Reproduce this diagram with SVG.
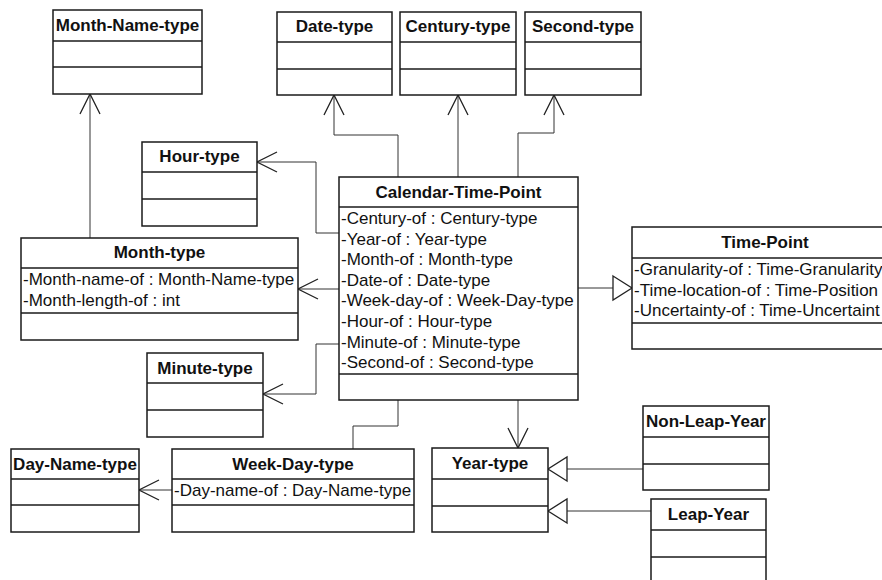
<svg xmlns="http://www.w3.org/2000/svg" width="882" height="580" viewBox="0 0 882 580">
  <style>
    .box { fill: #ffffff; stroke: #1a1a1a; stroke-width: 1.5; }
    .sep { stroke: #1a1a1a; stroke-width: 1.5; }
    .title { font-family: "Liberation Sans", Arial, sans-serif; font-size: 17px; font-weight: bold; text-anchor: middle; fill: #111; }
    .attr { font-family: "Liberation Sans", Arial, sans-serif; font-size: 17px; fill: #111; }
    .conn { fill: none; stroke: #333; stroke-width: 1; }
  </style>
  <defs>
    <marker id="open" markerUnits="userSpaceOnUse" markerWidth="26" markerHeight="26" viewBox="-23 -13 26 26" refX="0" refY="0" orient="auto" overflow="visible">
      <path d="M-20,-10 L0,0 L-20,10" fill="none" stroke="#222" stroke-width="1.3"/>
    </marker>
    <marker id="tri" markerUnits="userSpaceOnUse" markerWidth="26" markerHeight="30" viewBox="-22 -15 26 30" refX="0" refY="0" orient="auto" overflow="visible">
      <path d="M-19,-12 L0,0 L-19,12 Z" fill="#ffffff" stroke="#222" stroke-width="1.3"/>
    </marker>
  </defs>

  <!-- connectors -->
  <g id="connectors">
    <path class="conn" d="M90,238 V94" marker-end="url(#open)"/>
    <path class="conn" d="M398,177 V135 H334 V95" marker-end="url(#open)"/>
    <path class="conn" d="M458,177 V95" marker-end="url(#open)"/>
    <path class="conn" d="M518,177 V133 H554 V95" marker-end="url(#open)"/>
    <path class="conn" d="M339,233 H316 V162 H257" marker-end="url(#open)"/>
    <path class="conn" d="M339,289 H298" marker-end="url(#open)"/>
    <path class="conn" d="M339,344 H316 V394 H263" marker-end="url(#open)"/>
    <path class="conn" d="M398,400 V426 H353 V449"/>
    <path class="conn" d="M172,490 H139" marker-end="url(#open)"/>
    <path class="conn" d="M518,400 V448" marker-end="url(#open)"/>
    <path class="conn" d="M578,288 H632" marker-end="url(#tri)"/>
    <path class="conn" d="M643,469 H548" marker-end="url(#tri)"/>
    <path class="conn" d="M651,511 H548" marker-end="url(#tri)"/>
  </g>

  <g id="month-name-type">
    <rect class="box" x="53" y="10" width="149" height="84"/>
    <line class="sep" x1="53" y1="41" x2="202" y2="41"/>
    <line class="sep" x1="53" y1="67" x2="202" y2="67"/>
    <text class="title" x="127.5" y="31">Month-Name-type</text>
  </g>

  <g id="date-type">
    <rect class="box" x="277" y="12" width="115" height="83"/>
    <line class="sep" x1="277" y1="42" x2="392" y2="42"/>
    <line class="sep" x1="277" y1="69" x2="392" y2="69"/>
    <text class="title" x="334.5" y="32">Date-type</text>
  </g>

  <g id="century-type">
    <rect class="box" x="400" y="12" width="116" height="83"/>
    <line class="sep" x1="400" y1="42" x2="516" y2="42"/>
    <line class="sep" x1="400" y1="69" x2="516" y2="69"/>
    <text class="title" x="458" y="32">Century-type</text>
  </g>

  <g id="second-type">
    <rect class="box" x="525" y="12" width="116" height="83"/>
    <line class="sep" x1="525" y1="42" x2="641" y2="42"/>
    <line class="sep" x1="525" y1="69" x2="641" y2="69"/>
    <text class="title" x="583" y="32">Second-type</text>
  </g>

  <g id="hour-type">
    <rect class="box" x="142" y="142" width="115" height="84"/>
    <line class="sep" x1="142" y1="172" x2="257" y2="172"/>
    <line class="sep" x1="142" y1="199" x2="257" y2="199"/>
    <text class="title" x="199.5" y="162">Hour-type</text>
  </g>

  <g id="calendar-time-point">
    <rect class="box" x="339" y="177" width="239" height="223"/>
    <line class="sep" x1="339" y1="207" x2="578" y2="207"/>
    <line class="sep" x1="339" y1="374" x2="578" y2="374"/>
    <text class="title" x="458.5" y="198">Calendar-Time-Point</text>
    <text class="attr" x="341" y="224">-Century-of : Century-type</text>
    <text class="attr" x="341" y="244.6">-Year-of : Year-type</text>
    <text class="attr" x="341" y="265.2">-Month-of : Month-type</text>
    <text class="attr" x="341" y="285.8">-Date-of : Date-type</text>
    <text class="attr" x="341" y="306.4">-Week-day-of : Week-Day-type</text>
    <text class="attr" x="341" y="327">-Hour-of : Hour-type</text>
    <text class="attr" x="341" y="347.6">-Minute-of : Minute-type</text>
    <text class="attr" x="341" y="368.2">-Second-of : Second-type</text>
  </g>

  <g id="month-type">
    <rect class="box" x="21" y="238" width="277" height="102"/>
    <line class="sep" x1="21" y1="268" x2="298" y2="268"/>
    <line class="sep" x1="21" y1="313" x2="298" y2="313"/>
    <text class="title" x="159.5" y="258">Month-type</text>
    <text class="attr" x="23" y="285">-Month-name-of : Month-Name-type</text>
    <text class="attr" x="23" y="306">-Month-length-of : int</text>
  </g>

  <!-- Time-Point runs past the right edge of the canvas -->
  <g id="time-point">
    <rect class="box" x="632" y="227" width="266" height="122"/>
    <line class="sep" x1="632" y1="258" x2="898" y2="258"/>
    <line class="sep" x1="632" y1="323" x2="898" y2="323"/>
    <text class="title" x="765" y="248">Time-Point</text>
    <text class="attr" x="634" y="275">-Granularity-of : Time-Granularity</text>
    <text class="attr" x="634" y="295.6">-Time-location-of : Time-Position</text>
    <text class="attr" x="634" y="316.2">-Uncertainty-of : Time-Uncertaint</text>
  </g>

  <g id="minute-type">
    <rect class="box" x="147" y="353" width="116" height="84"/>
    <line class="sep" x1="147" y1="383" x2="263" y2="383"/>
    <line class="sep" x1="147" y1="410" x2="263" y2="410"/>
    <text class="title" x="205" y="374">Minute-type</text>
  </g>

  <g id="day-name-type">
    <rect class="box" x="11" y="449" width="128" height="83"/>
    <line class="sep" x1="11" y1="479" x2="139" y2="479"/>
    <line class="sep" x1="11" y1="505" x2="139" y2="505"/>
    <text class="title" x="75" y="470">Day-Name-type</text>
  </g>

  <g id="week-day-type">
    <rect class="box" x="172" y="449" width="242" height="83"/>
    <line class="sep" x1="172" y1="479" x2="414" y2="479"/>
    <line class="sep" x1="172" y1="505" x2="414" y2="505"/>
    <text class="title" x="293" y="470">Week-Day-type</text>
    <text class="attr" x="174" y="496">-Day-name-of : Day-Name-type</text>
  </g>

  <g id="year-type">
    <rect class="box" x="432" y="448" width="116" height="84"/>
    <line class="sep" x1="432" y1="479" x2="548" y2="479"/>
    <line class="sep" x1="432" y1="506" x2="548" y2="506"/>
    <text class="title" x="490" y="469">Year-type</text>
  </g>

  <g id="non-leap-year">
    <rect class="box" x="643" y="406" width="126" height="84"/>
    <line class="sep" x1="643" y1="437" x2="769" y2="437"/>
    <line class="sep" x1="643" y1="464" x2="769" y2="464"/>
    <text class="title" x="706" y="427">Non-Leap-Year</text>
  </g>

  <g id="leap-year">
    <rect class="box" x="651" y="499" width="115" height="84"/>
    <line class="sep" x1="651" y1="530" x2="766" y2="530"/>
    <line class="sep" x1="651" y1="557" x2="766" y2="557"/>
    <text class="title" x="708.5" y="520">Leap-Year</text>
  </g>
</svg>
